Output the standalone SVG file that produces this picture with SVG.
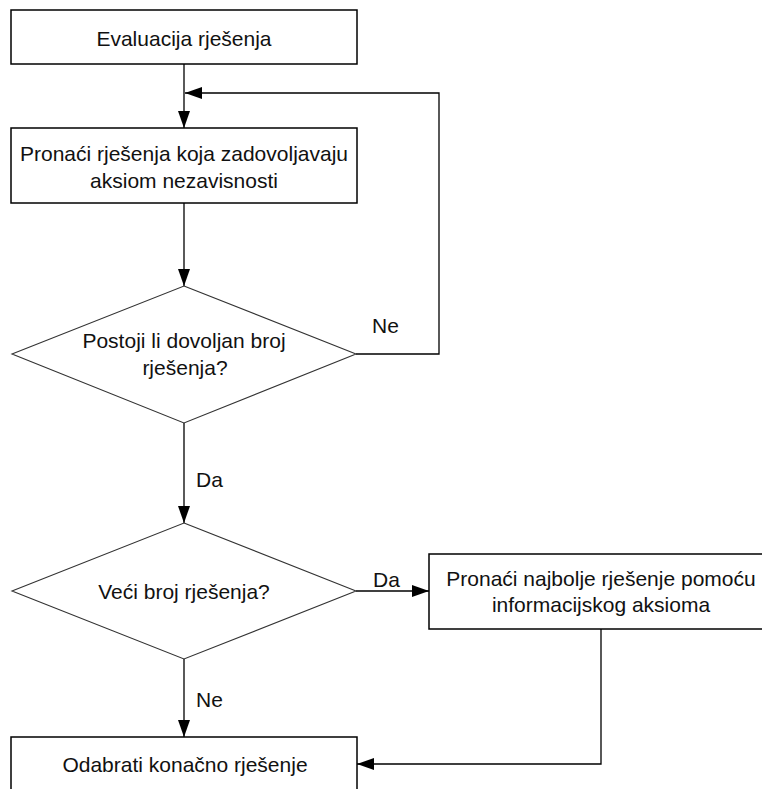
<svg xmlns="http://www.w3.org/2000/svg" width="762" height="789" viewBox="0 0 762 789">
<style>
.box{fill:#fff;stroke:#000;stroke-width:1.5}
.dia{fill:#fff;stroke:#333;stroke-width:1.1}
.con{fill:none;stroke:#000;stroke-width:1.3}
text{font-family:"Liberation Sans",Arial,sans-serif;font-size:21px;fill:#111}
.c{text-anchor:middle}
</style>
<defs>
<marker id="arr" markerUnits="userSpaceOnUse" markerWidth="18" markerHeight="12" refX="17" refY="6" orient="auto">
<path d="M0,0 L17,6 L0,12 z" fill="#000"/>
</marker>
</defs>
<rect width="762" height="789" fill="#fff"/>
<g id="connectors">
<path class="con" d="M184,64 V128" marker-end="url(#arr)"/>
<path class="con" d="M356,354 H439 V93 H185" marker-end="url(#arr)"/>
<path class="con" d="M184,203 V286" marker-end="url(#arr)"/>
<path class="con" d="M184,423 V523" marker-end="url(#arr)"/>
<path class="con" d="M356,591 H429" marker-end="url(#arr)"/>
<path class="con" d="M184,659 V737" marker-end="url(#arr)"/>
<path class="con" d="M601,629 V764 H357" marker-end="url(#arr)"/>
<text x="372" y="333">Ne</text>
<text x="196" y="487">Da</text>
<text x="373" y="587">Da</text>
<text x="196" y="707">Ne</text>
</g>
<g id="n1">
<rect class="box" x="11" y="10" width="346" height="54"/>
<text class="c" x="184" y="46">Evaluacija rješenja</text>
</g>
<g id="n2">
<rect class="box" x="11" y="128" width="346" height="75"/>
<text class="c" x="184" y="161">Pronaći rješenja koja zadovoljavaju</text>
<text class="c" x="184" y="188">aksiom nezavisnosti</text>
</g>
<g id="d1">
<polygon class="dia" points="184,286 356,354 184,423 12,354"/>
<text class="c" x="184" y="348">Postoji li dovoljan broj</text>
<text class="c" x="185" y="375">rješenja?</text>
</g>
<g id="d2">
<polygon class="dia" points="184,523 356,591 184,659 12,591"/>
<text class="c" x="184" y="599">Veći broj rješenja?</text>
</g>
<g id="n4">
<rect class="box" x="429" y="554" width="344" height="75"/>
<text class="c" x="601" y="586">Pronaći najbolje rješenje pomoću</text>
<text class="c" x="601" y="612">informacijskog aksioma</text>
</g>
<g id="n3">
<rect class="box" x="11" y="737" width="346" height="62"/>
<text class="c" x="185" y="772">Odabrati konačno rješenje</text>
</g>
</svg>
